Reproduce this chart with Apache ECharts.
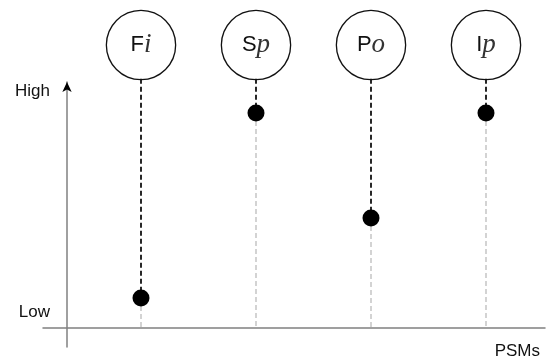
<!DOCTYPE html>
<html>
<head>
<meta charset="utf-8">
<script src="https://cdn.jsdelivr.net/npm/echarts@6/dist/echarts.min.js"></script>
<style>html,body{margin:0;padding:0;background:#fff}#c{width:550px;height:363px}</style>
</head>
<body>
<div id="c"></div>
<script>
// Data
var categories = ['Fi', 'Sp', 'Po', 'Ip'];
var capitals = ['F', 'S', 'P', 'I'];
var scripts = ['i', 'p', 'o', 'p'];
var levels = [12, 87.4, 44.6, 87.4];
var yTickValues = [6.1, 96.4];
var yTickLabels = ['Low', 'High'];
var xAxisName = 'PSMs';

var Y_MIN = -8, Y_MAX = 100, TOP_VALUE = 101.3;
var FONT = 'Liberation Sans, Arial, sans-serif';

var chart = echarts.init(document.getElementById('c'), null, {renderer: 'canvas'});
var option = {
  animation: false,
  backgroundColor: '#fff',
  grid: [
    {left: 43, right: 5, top: 82, bottom: 16},
    {left: 83.5, right: 6.5, top: 82, bottom: 16}
  ],
  xAxis: [
    {
      gridIndex: 0, type: 'value', min: 0, max: 1,
      axisLine: {show: true, onZero: true, lineStyle: {color: '#808080', width: 1.5}},
      axisTick: {show: false}, axisLabel: {show: false}, splitLine: {show: false},
      name: xAxisName, nameLocation: 'end', nameGap: 0,
      nameTextStyle: {fontFamily: FONT, fontSize: 17, color: '#111', align: 'right', verticalAlign: 'top', padding: [15, 5, 0, 0]}
    },
    {
      gridIndex: 1, type: 'category', data: categories, position: 'top', boundaryGap: true,
      axisLine: {show: false}, axisTick: {show: false}, splitLine: {show: false},
      axisLabel: {
        interval: 0, margin: 3,
        formatter: function (v, i) { return '{a|' + capitals[i] + '}{b|' + scripts[i] + '}'; },
        width: 68, height: 68, lineHeight: 68, align: 'center',
        backgroundColor: '#fff', borderColor: '#111', borderWidth: 1.3, borderRadius: 35,
        rich: {
          a: {fontFamily: FONT, fontSize: 22, color: '#111', lineHeight: 68},
          b: {fontFamily: 'Liberation Serif, DejaVu Serif, serif', fontStyle: 'italic', fontSize: 27, color: '#333', lineHeight: 68}
        }
      }
    }
  ],
  yAxis: [
    {
      gridIndex: 0, type: 'value', min: Y_MIN, max: Y_MAX, offset: -24,
      axisLine: {show: true, onZero: false, lineStyle: {color: '#808080', width: 1.5}},
      axisTick: {show: false}, splitLine: {show: false},
      axisLabel: {
        customValues: yTickValues, margin: 17, fontFamily: FONT, fontSize: 17, color: '#111',
        formatter: function (v) { var i = yTickValues.indexOf(v); return i >= 0 ? yTickLabels[i] : ''; }
      }
    },
    {
      gridIndex: 0, type: 'value', min: Y_MIN, max: Y_MAX, offset: -24, position: 'left',
      axisLine: {show: true, onZero: false, symbol: ['none', 'arrow'], symbolSize: [7, 10], lineStyle: {color: '#000', width: 0}},
      axisTick: {show: false}, splitLine: {show: false}, axisLabel: {show: false}
    },
    {
      gridIndex: 1, type: 'value', min: Y_MIN, max: Y_MAX, show: false
    }
  ],
  series: [
    {
      type: 'custom', xAxisIndex: 1, yAxisIndex: 2, clip: false,
      data: levels.map(function (v, i) { return [i, v]; }),
      renderItem: function (params, api) {
        var x = api.value(0), v = api.value(1);
        var top = api.coord([x, TOP_VALUE]);
        var pt = api.coord([x, v]);
        var base = api.coord([x, 0]);
        return {type: 'group', children: [
          {type: 'line', shape: {x1: pt[0], y1: pt[1], x2: base[0], y2: base[1]}, style: {stroke: '#cfcfcf', lineWidth: 1.8, lineDash: [5, 3]}},
          {type: 'line', shape: {x1: top[0], y1: top[1], x2: pt[0], y2: pt[1]}, style: {stroke: '#111', lineWidth: 1.8, lineDash: [5, 3]}}
        ]};
      }
    },
    {
      type: 'scatter', xAxisIndex: 1, yAxisIndex: 2, symbol: 'circle', symbolSize: 17,
      itemStyle: {color: '#000', opacity: 1}, z: 5,
      data: levels.map(function (v, i) { return [i, v]; })
    }
  ]
};
chart.setOption(option);
</script>
</body>
</html>
